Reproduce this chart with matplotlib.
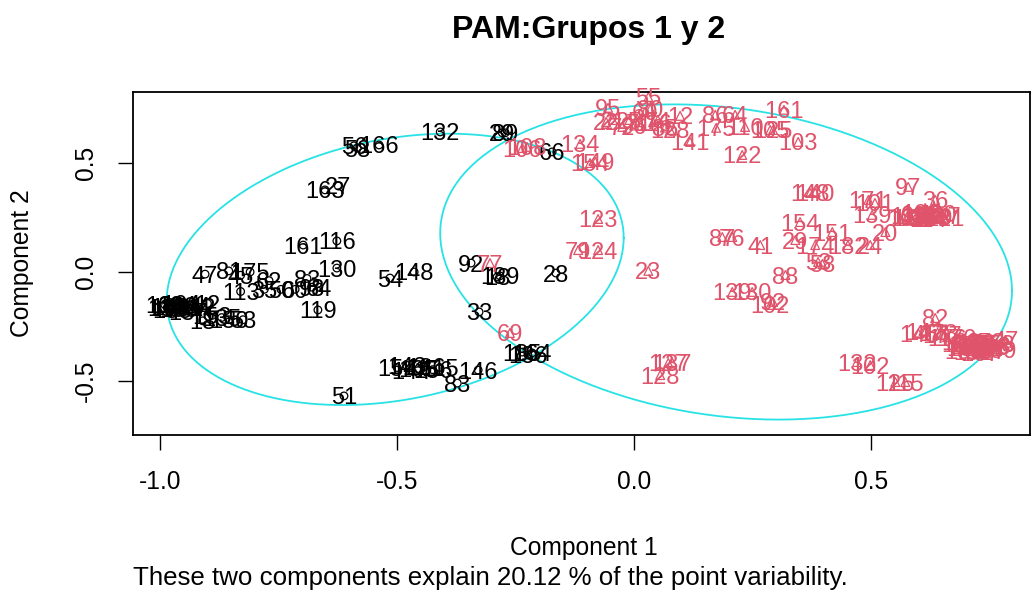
import numpy as np
import matplotlib.pyplot as plt

plt.rcParams['font.family'] = ['Liberation Sans', 'DejaVu Sans']

# grupo 1 (negro, circulos)
g1_labels = ['132', '29', '89', '56', '58', '166', '163', '27', '161', '116',
             '130', '148', '54', '66', '92', '189', '18', '28', '33', '119',
             '51', '83', '146', '185', '136', '164',
             '154', '143', '165', '186', '156', '144', '115',
             '47', '81', '175', '45', '62', '113', '35', '50', '60', '98',
             '83', '64', '180', '184', '181', '134', '190', '18', '135', '150', '53',
             '100', '188', '104', '187', '142', '133', '12', '153']
g1_x = [-0.409, -0.278, -0.272, -0.591, -0.584, -0.538, -0.652, -0.624, -0.698, -0.627,
        -0.627, -0.464, -0.515, -0.173, -0.344, -0.283, -0.289, -0.165, -0.327, -0.667,
        -0.612, -0.373, -0.329, -0.236, -0.224, -0.215,
        -0.500, -0.480, -0.455, -0.440, -0.425, -0.470, -0.410,
        -0.905, -0.855, -0.810, -0.830, -0.770, -0.830, -0.780, -0.745, -0.715, -0.680,
        -0.690, -0.665, -0.980, -0.965, -0.950, -0.935, -0.960, -0.910, -0.870, -0.855, -0.825,
        -0.990, -0.975, -0.955, -0.940, -0.925, -0.985, -0.900, -0.890]
g1_y = [0.645, 0.641, 0.641, 0.581, 0.571, 0.585, 0.378, 0.396, 0.124, 0.143,
        0.018, 0.000, -0.028, 0.553, 0.041, -0.018, -0.023, -0.005, -0.184, -0.175,
        -0.571, -0.512, -0.452, -0.369, -0.382, -0.373,
        -0.440, -0.430, -0.445, -0.435, -0.450, -0.455, -0.440,
        -0.010, 0.005, 0.000, -0.015, -0.040, -0.090, -0.080, -0.080, -0.080, -0.070,
        -0.030, -0.070, -0.160, -0.150, -0.165, -0.155, -0.170, -0.225, -0.210, -0.220, -0.220,
        -0.150, -0.175, -0.145, -0.180, -0.160, -0.165, -0.145, -0.200]

# grupo 2 (rojo, triangulos)
g2_labels = ['95', '55', '80', '60', '22', '72', '128', '12', '141', '86',
             '64', '161', '175', '110', '105', '125', '103', '122', '106', '108',
             '134', '154', '149', '123', '79', '124', '77', '23', '69', '87',
             '76', '41', '148', '140', '154', '151', '29', '174', '182', '24',
             '53', '58', '88', '171', '101', '97', '139', '20', '36',
             '112', '113', '31', '62', '90', '117',
             '139', '130', '102', '92', '127', '137', '128', '132', '102', '125', '115',
             '82', '142', '145', '47', '67', '94', '111', '118', '126', '57',
             '26', '42', '73', '99', '107', '109', '114', '120', '121', '131',
             '138', '147', '152', '155', '157', '158', '159', '160', '162', '167',
             '168', '169', '170', '172', '173', '176', '177', '178',
             '21', '25', '71', '74', '85', '96', '116']
g2_x = [-0.055, 0.030, 0.034, 0.023, -0.059, -0.025, 0.076, 0.097, 0.118, 0.171,
        0.213, 0.316, 0.173, 0.234, 0.287, 0.293, 0.346, 0.228, -0.236, -0.226,
        -0.114, -0.093, -0.082, -0.076, -0.118, -0.076, -0.304, 0.030, -0.262, 0.186,
        0.207, 0.266, 0.371, 0.382, 0.350, 0.418, 0.340, 0.382, 0.451, 0.498,
        0.388, 0.397, 0.319, 0.494, 0.508, 0.578, 0.502, 0.530, 0.635,
        0.580, 0.600, 0.615, 0.630, 0.645, 0.650,
        0.207, 0.249, 0.287, 0.293, 0.072, 0.080, 0.055, 0.470, 0.498, 0.551, 0.572,
        0.635, 0.614, 0.600, 0.783, 0.700, 0.720, 0.740, 0.755, 0.690, 0.735,
        0.610, 0.625, 0.640, 0.590, 0.575, 0.605, 0.620, 0.638, 0.655, 0.585,
        0.695, 0.705, 0.715, 0.725, 0.745, 0.760, 0.765, 0.700, 0.712, 0.730,
        0.750, 0.690, 0.680, 0.722, 0.740, 0.660, 0.650, 0.640,
        -0.045, -0.010, 0.010, 0.050, 0.065, 0.000, 0.040]
g2_y = [0.756, 0.806, 0.751, 0.737, 0.691, 0.668, 0.654, 0.719, 0.599, 0.724,
        0.724, 0.747, 0.664, 0.668, 0.654, 0.654, 0.599, 0.539, 0.571, 0.576,
        0.590, 0.502, 0.507, 0.244, 0.101, 0.101, 0.041, 0.005, -0.281, 0.161,
        0.161, 0.124, 0.364, 0.364, 0.230, 0.184, 0.147, 0.124, 0.124, 0.124,
        0.046, 0.037, -0.014, 0.332, 0.318, 0.392, 0.263, 0.184, 0.332,
        0.260, 0.255, 0.262, 0.258, 0.255, 0.262,
        -0.092, -0.092, -0.152, -0.138, -0.419, -0.415, -0.475, -0.415, -0.429, -0.507, -0.507,
        -0.212, -0.276, -0.285, -0.313, -0.335, -0.345, -0.350, -0.340, -0.330, -0.355,
        0.250, 0.268, 0.250, 0.265, 0.252, 0.272, 0.248, 0.270, 0.250, 0.250,
        -0.360, -0.330, -0.365, -0.335, -0.360, -0.330, -0.355, -0.350, -0.340, -0.370,
        -0.345, -0.320, -0.300, -0.325, -0.320, -0.300, -0.290, -0.280,
        0.700, 0.700, 0.690, 0.700, 0.665, 0.675, 0.690]

# elipses de cada grupo: centro, semiejes en x e y, covarianza
ell_cx = [-0.504, 0.194]
ell_cy = [0.012, 0.046]
ell_ax = [0.482, 0.603]
ell_ay = [0.625, 0.726]
ell_cov = [0.070, -0.080]

col1 = 'black'
col2 = '#DF536B'
cyan = '#28E2E5'

fig = plt.figure(figsize=(10.33, 5.95), dpi=100)
W, H = 1033, 595
ax = fig.add_axes([133 / W, (H - 435) / H, (1030 - 133) / W, (435 - 92) / H])

t = np.linspace(0, 2 * np.pi, 300)
for cx, cy, a, b, c in zip(ell_cx, ell_cy, ell_ax, ell_ay, ell_cov):
    L = np.linalg.cholesky(np.array([[a * a, c], [c, b * b]]))
    pts = L @ np.vstack([np.cos(t), np.sin(t)])
    ax.plot(cx + pts[0], cy + pts[1], color=cyan, lw=1.3, zorder=1)

ax.scatter(g1_x, g1_y, marker='o', facecolors='none', edgecolors=col1, s=30, lw=0.9, zorder=2)
ax.scatter(g2_x, g2_y, marker='^', facecolors='none', edgecolors=col2, s=40, lw=0.9, zorder=2)
for lab, x, y in zip(g1_labels, g1_x, g1_y):
    ax.text(x, y, lab, ha='center', va='center_baseline', fontsize=17, color=col1, zorder=3)
for lab, x, y in zip(g2_labels, g2_x, g2_y):
    ax.text(x, y, lab, ha='center', va='center_baseline', fontsize=17, color=col2, zorder=3)

ax.set_xlim(-1.057, 0.835)
ax.set_ylim(-0.751, 0.829)
ax.set_xticks([-1.0, -0.5, 0.0, 0.5])
ax.set_xticklabels(['-1.0', '-0.5', '0.0', '0.5'])
ax.set_yticks([-0.5, 0.0, 0.5])
ax.set_yticklabels(['-0.5', '0.0', '0.5'], rotation=90, va='center')
ax.tick_params(length=11, width=1, labelsize=17.7, pad=14)
for s in ax.spines.values():
    s.set_linewidth(1.3)

fig.text(589 / W, 1 - 30 / H, 'PAM:Grupos 1 y 2', ha='center', va='center',
         fontsize=23, fontweight='bold')
fig.text(584 / W, 1 - 548 / H, 'Component 1', ha='center', va='center', fontsize=17.7)
fig.text(22 / W, 1 - 263 / H, 'Component 2', ha='center', va='center', fontsize=17.7,
         rotation=90)
fig.text(133 / W, 1 - 578 / H, 'These two components explain 20.12 % of the point variability.',
         ha='left', va='center', fontsize=18.6)

fig.savefig('out.png', dpi=100)
